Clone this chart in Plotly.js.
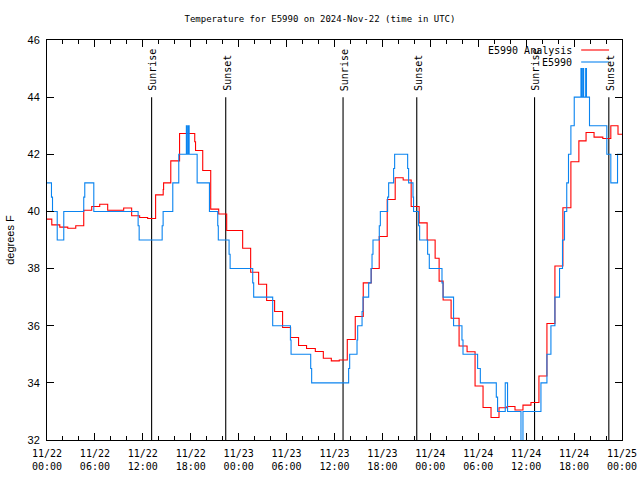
<!DOCTYPE html>
<html>
<head>
<meta charset="utf-8">
<script src="https://cdn.plot.ly/plotly-3.0.1.min.js"></script>
<style>html,body{margin:0;padding:0;background:#fff;}#chart{width:640px;height:480px;}</style>
</head>
<body>
<div id="chart"></div>
<script>
// ---- data (hours since 2024-11-22 00:00 UTC) ----
const seriesNames = ["E5990 Analysis", "E5990"];

const analysisHours = [0,0.6,1.6,2.6,3.6,4.6,5.6,6.6,7.6,9.6,10.6,11.6,12.6,13.6,14.55,14.6,15.5,16.6,18.5,18.6,19.5,20.5,21.5,22.5,24.5,25.5,26.5,27.5,28.5,29.5,30.5,31.5,32.5,33.6,34.6,35.6,36.6,37.6,38.6,39.6,40.6,41.6,42.6,43.6,44.6,45.6,46.6,47.6,48.6,49.1,49.6,50.6,51.6,52.6,53.6,54.6,55.6,56.6,57.6,58.6,59.6,60.6,61.6,62.6,63.6,64.6,65.6,66.6,67.5,68.5,69.6,70.6,71.5,72];
const analysisTemps = [39.73,39.53,39.45,39.41,39.5,40.04,40.17,40.25,40.04,40.12,39.85,39.79,39.75,40.58,40.77,41.0,41.77,42.73,42.44,42.13,41.43,40.08,39.91,39.33,38.71,37.87,37.45,36.88,36.5,35.94,35.59,35.31,35.2,35.1,34.86,34.77,34.8,35.52,36.32,37.5,38.0,39.12,40.42,41.18,41.1,40.17,39.6,39.0,38.36,37.56,36.9,36.26,35.29,35.09,33.89,33.14,32.79,33.13,33.17,33.05,33.22,33.31,34.24,36.08,38.09,40.13,41.74,42.47,42.76,42.6,42.55,43.0,42.7,42.7];

const obsHours = [0,0.56,0.69,1.28,2.1,4.6,4.73,5.86,11.41,11.54,14.42,14.54,15.75,16.5,17.45,17.55,17.7,17.8,18.8,20.34,21.38,21.45,22.8,22.93,25.76,25.88,28.26,30.48,30.56,33.02,33.14,37.77,37.9,38.82,38.9,39.45,39.57,40.28,40.58,40.7,40.82,41.61,41.74,42.65,42.78,43.4,43.53,45.16,45.28,45.83,45.9,46.53,46.66,47.66,47.87,49.46,49.59,50.91,51.96,52.09,53.92,54.26,56.26,56.42,57.38,57.67,59.35,59.6,61.85,62.6,63.1,63.6,64.18,64.55,64.8,65.08,65.3,65.6,66.02,66.86,66.95,67.1,67.2,67.45,67.55,67.93,70.1,70.6,71.44,72];
const obsTemps = [41,40.5,40,39,40,40.5,41,40,39.5,39,39.5,40,41,42,43,42,43,42,41,40,39.5,39,38.5,38,37.5,37,36,35.5,35,34.5,34,34.5,35,35.5,36,36.5,37,37.5,38,38.5,39,39.5,40,40.5,41,41.5,42,41.5,41,40.5,40,39.5,39,38.5,38,37.5,37,36,35.5,35,34.5,34,33.5,33,34,33,31.5,33,34,35,36,37,38,39,40,41,42,43,44,45,44,45,44,45,44,43,42,41,42,42];

const eventLabels = ["Sunrise","Sunset","Sunrise","Sunset","Sunrise","Sunset"];
const eventHours = [13.1,22.38,37.07,46.3,61.05,70.35];

// ---- helpers ----
const baseMs = Date.UTC(2024,10,22,0,0,0);
function toDate(h){
  return new Date(baseMs + Math.round(h*3600000)).toISOString().replace('T',' ').slice(0,19);
}

const monoFont = '"DejaVu Sans Mono", "Liberation Mono", monospace';
const sansFont = '"Liberation Sans", Arial, sans-serif';
const seriesColors = ['#ff0000', '#0a84f0'];

const traces = [];
eventHours.forEach(h => {
  traces.push({x:[toDate(h),toDate(h)], y:[32,44], mode:'lines', type:'scatter',
    line:{color:'#000', width:1.1}, showlegend:false, hoverinfo:'skip'});
});
traces.push({x:analysisHours.map(toDate), y:analysisTemps, name:seriesNames[0], mode:'lines', type:'scatter',
  line:{color:seriesColors[0], width:1.1, shape:'hv'}, showlegend:false});
traces.push({x:obsHours.map(toDate), y:obsTemps, name:seriesNames[1], mode:'lines', type:'scatter',
  line:{color:seriesColors[1], width:1.1, shape:'hv'}, showlegend:false});

const annotations = eventHours.map((h,i) => ({
  x: toDate(h), y: 44, xref:'x', yref:'y', text: eventLabels[i], showarrow:false,
  textangle:-90, xanchor:'center', yanchor:'bottom', yshift:4, xshift:1,
  font:{family:monoFont, size:10, color:'#000'}
}));
const shapes = [];
const legendY = [0.975, 0.945];
seriesNames.forEach((n,i) => {
  annotations.push({x:0.9165, y:legendY[i], xref:'paper', yref:'paper', text:n, showarrow:false,
    xanchor:'right', yanchor:'middle', font:{family:monoFont, size:10, color:'#000'}});
  shapes.push({type:'line', xref:'paper', yref:'paper', x0:0.929, x1:0.9775, y0:legendY[i], y1:legendY[i],
    line:{color:seriesColors[i], width:1.1}});
});

const layout = {
  width:640, height:480,
  margin:{l:47, r:18, t:40, b:40, pad:0},
  paper_bgcolor:'#fff', plot_bgcolor:'#fff',
  title:{text:'Temperature for E5990 on 2024-Nov-22 (time in UTC)', x:0.5, xref:'container',
    y:0.96, yref:'container', xanchor:'center', yanchor:'middle',
    font:{family:monoFont, size:9, color:'#000'}},
  xaxis:{type:'date', range:[toDate(0), toDate(72)], tick0:toDate(0), dtick:6*3600000,
    tickformat:'%m/%d<br>%H:%M', ticks:'inside', ticklen:7, tickcolor:'#000',
    showline:true, linecolor:'#000', linewidth:1, mirror:'allticks', showgrid:false, zeroline:false,
    minor:{dtick:2*3600000, ticks:'inside', ticklen:4, tickcolor:'#000', showgrid:false},
    tickfont:{family:monoFont, size:10, color:'#000'}, ticklabelstandoff:4, fixedrange:true},
  yaxis:{range:[32,46], dtick:2, ticks:'inside', ticklen:7, tickcolor:'#000',
    showline:true, linecolor:'#000', linewidth:1, mirror:'allticks', showgrid:false, zeroline:false,
    tickfont:{family:sansFont, size:11, color:'#000'}, ticklabelstandoff:4,
    title:{text:'degrees F', font:{family:sansFont, size:11, color:'#000'}, standoff:10}},
  annotations: annotations,
  shapes: shapes,
  showlegend:false
};

Plotly.newPlot('chart', traces, layout, {staticPlot:true, displayModeBar:false});
</script>
</body>
</html>
